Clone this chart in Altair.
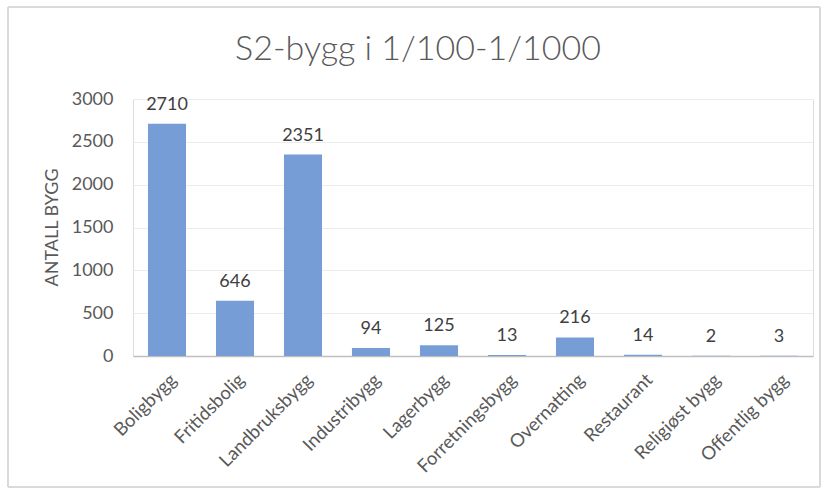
import altair as alt
import pandas as pd

categories = ["Boligbygg", "Fritidsbolig", "Landbruksbygg", "Industribygg", "Lagerbygg",
              "Forretningsbygg", "Overnatting", "Restaurant", "Religiøst bygg", "Offentlig bygg"]
values = [2710, 646, 2351, 94, 125, 13, 216, 14, 2, 3]
y_ticks = [0, 500, 1000, 1500, 2000, 2500, 3000]
title_text = ["S2-bygg i 1/100-1/1000"]

df = pd.DataFrame({"kategori": categories, "antall": values})
tdf = pd.DataFrame({"t": title_text})

FONT = "Lato"
W, H = 680, 257

x = alt.X("kategori:N", sort=categories, title=None,
          scale=alt.Scale(paddingInner=0.44, paddingOuter=0.22),
          axis=alt.Axis(labelAngle=-45, labelFontSize=18.5, labelColor="#595959", labelFont=FONT,
                        ticks=False, domainColor="#bfbfbf", domainWidth=1.5, labelPadding=14))
y = alt.Y("antall:Q", title="ANTALL BYGG",
          scale=alt.Scale(domain=[0, 3000], nice=False),
          axis=alt.Axis(values=y_ticks, format="d", labelFontSize=18, labelColor="#595959", labelFont=FONT,
                        ticks=False, domain=False, gridColor="#ececec", labelPadding=20,
                        titleFont=FONT, titleFontSize=18, titleFontWeight="normal", titleColor="#595959",
                        titleX=-81, titleY=128, titleAngle=-90, titleAlign="center", titleBaseline="middle"))

base = alt.Chart(df)
bars = base.mark_bar(color="#779dd7").encode(x=x, y=y)
labels = base.mark_text(dy=-10, baseline="bottom", fontSize=18, font=FONT, color="#404040").encode(
    x=alt.X("kategori:N", sort=categories), y="antall:Q", text="antall:Q")
frame = alt.Chart(df).mark_rect(fill=None, stroke="#d9d9d9", strokeWidth=1, clip=False).encode(
    x=alt.value(-125), x2=alt.value(687), y=alt.value(-92), y2=alt.value(388))
title = alt.Chart(tdf).mark_text(fontSize=34, font=FONT, fontWeight=300, color="#595959",
                                  baseline="middle", align="center").encode(
    x=alt.value(285), y=alt.value(-49), text="t:N")

chart = alt.layer(frame, bars, labels, title).properties(
    width=W, height=H,
    autosize=alt.AutoSizeParams(type="none"),
    padding={"left": 133, "top": 99, "right": 14, "bottom": 141},
).configure_view(stroke=None).configure(background="white")

chart.save("out.html", embed_options={"renderer": "svg", "actions": False})
